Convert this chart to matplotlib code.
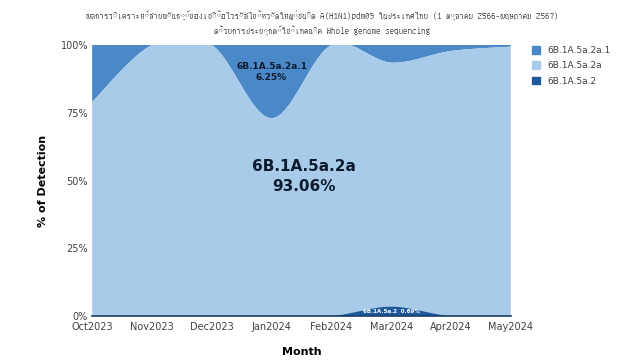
import numpy as np
import matplotlib
matplotlib.use("Agg")
import matplotlib.pyplot as plt
from matplotlib.path import Path
from matplotlib.patches import PathPatch, Patch
from matplotlib import font_manager
from matplotlib.ft2font import FT2Font


# Données (% de détection par mois)
months = ['Oct2023', 'Nov2023', 'Dec2023', 'Jan2024', 'Feb2024', 'Mar2024', 'Apr2024', 'May2024']
clade_5a2 = [0, 0, 0, 0, 0, 3.5, 0, 0]
clade_5a2a = [79, 100, 100, 73, 100, 90, 97.8, 99.4]
clade_5a2a1 = [21, 0, 0, 27, 0, 6.5, 2.2, 0.6]

series_names = ['6B.1A.5a.2a.1', '6B.1A.5a.2a', '6B.1A.5a.2']
c_top = '#4a88c8'
c_mid = '#a8cbea'
c_bot = '#1d5a9c'

title = ('ผลการวิเคราะห์สายพันธุ์ของเชื้อไวรัสไข้หวัดใหญ่ชนิด A(H1N1)pdm09 ในประเทศไทย (1 ตุลาคม 2566-พฤษภาคม 2567)\n'
         'ด้วยการประยุกต์ใช้เทคนิค Whole genome sequencing')


# police avec les glyphes thaïs
thai_font = None
for f in font_manager.findSystemFonts():
    try:
        if 0x0E01 in FT2Font(f).get_charmap():
            thai_font = font_manager.FontProperties(fname=f).get_name()
            break
    except Exception:
        pass
title_family = [thai_font, 'DejaVu Sans'] if thai_font else ['DejaVu Sans']


def smooth_segments(x, y):
    # contrôles de Bézier (Catmull-Rom) pour une courbe lissée
    x = np.asarray(x, float)
    y = np.asarray(y, float)
    n = len(x)
    verts, codes = [], []
    for i in range(n - 1):
        p0 = np.array([x[max(i - 1, 0)], y[max(i - 1, 0)]])
        p1 = np.array([x[i], y[i]])
        p2 = np.array([x[i + 1], y[i + 1]])
        p3 = np.array([x[min(i + 2, n - 1)], y[min(i + 2, n - 1)]])
        c1 = p1 + (p2 - p0) / 6
        c2 = p2 - (p3 - p1) / 6
        verts += [tuple(c1), tuple(c2), tuple(p2)]
        codes += [Path.CURVE4] * 3
    return verts, codes


def band(ax, x, lower, upper, color):
    v1, c1 = smooth_segments(x, lower)
    v2, c2 = smooth_segments(x[::-1], upper[::-1])
    verts = [(x[0], lower[0])] + v1 + [(x[-1], upper[-1])] + v2 + [(x[0], lower[0])]
    codes = [Path.MOVETO] + c1 + [Path.LINETO] + c2 + [Path.CLOSEPOLY]
    ax.add_patch(PathPatch(Path(verts, codes), facecolor=color, edgecolor='none', zorder=1))


x = np.arange(len(months))
b1 = np.array(clade_5a2, float)
b2 = b1 + np.array(clade_5a2a, float)
zero = np.zeros(len(months))

fig = plt.figure(figsize=(6.4, 3.6), dpi=100)
ax = fig.add_axes([0.144, 0.122, 0.654, 0.753])

band(ax, x, b2, np.full(len(months), 100.0), c_top)
band(ax, x, b1, b2, c_mid)
band(ax, x, zero, b1, c_bot)

ax.set_xlim(0, len(months) - 1)
ax.set_ylim(0, 100)
ax.set_xticks(x)
ax.set_xticklabels(months)
ax.set_yticks([0, 25, 50, 75, 100])
ax.set_yticklabels(['0%', '25%', '50%', '75%', '100%'])
ax.tick_params(length=0, labelsize=7, colors='#404040', pad=3)
ax.tick_params(axis='x', pad=4)
for s in ['top', 'right', 'left']:
    ax.spines[s].set_visible(False)
ax.spines['bottom'].set_color('#1a3d66')
ax.spines['bottom'].set_linewidth(1.2)
ax.grid(axis='y', color='#d9d9d9', lw=0.5, zorder=0)
ax.set_axisbelow(True)

ax.set_ylabel('% of Detection', fontsize=8, fontweight='bold', labelpad=9)
ax.set_xlabel('Month', fontsize=8, fontweight='bold', labelpad=11)

ax.text(3.55, 51.5, '6B.1A.5a.2a\n93.06%', ha='center', va='center', fontsize=11,
        fontweight='bold', color='#0d1b2e', linespacing=1.35, zorder=3)
ax.text(3.0, 90, '6B.1A.5a.2a.1\n6.25%', ha='center', va='center', fontsize=6.5,
        fontweight='bold', color='#0d1b2e', linespacing=1.35, zorder=3)
ax.text(5.0, 1.7, '6B.1A.5a.2  0.69%', ha='center', va='center', fontsize=4,
        fontweight='bold', color='white', zorder=3)

fig.text(0.503, 0.935, title, ha='center', va='center', fontsize=6.5,
         family=title_family, color='#303030', linespacing=1.6)

handles = [Patch(color=c_top), Patch(color=c_mid), Patch(color=c_bot)]
fig.legend(handles, series_names, loc='upper left', bbox_to_anchor=(0.818, 0.895),
           frameon=False, fontsize=6.5, handlelength=0.9, handleheight=0.9,
           handletextpad=0.8, labelspacing=0.7, labelcolor='#404040')

fig.savefig('out.png', dpi=100)
